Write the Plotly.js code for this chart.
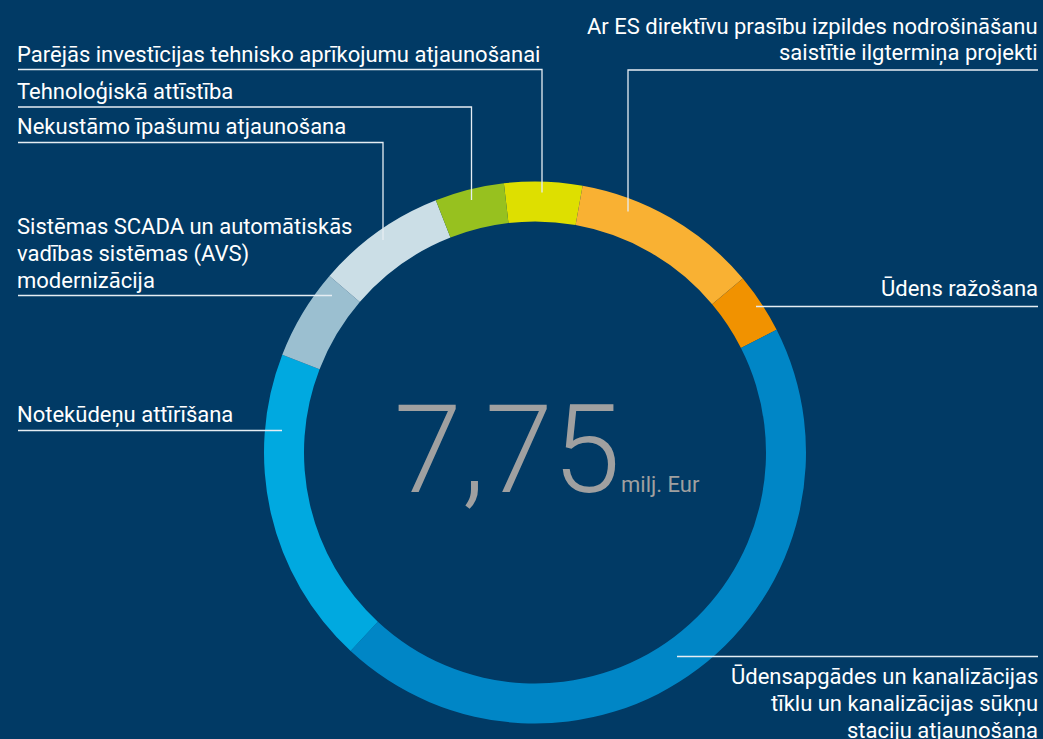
<!DOCTYPE html>
<html>
<head>
<meta charset="utf-8">
<script src="https://cdn.plot.ly/plotly-3.0.1.min.js"></script>
<style>html,body{margin:0;padding:0;background:#013a65;}#chart{width:1043px;height:739px;}</style>
</head>
<body>
<div id="chart"></div>
<script>
// Data (milj. Eur), clockwise from the top
const categories = [
  "Parējās investīcijas tehnisko aprīkojumu atjaunošanai",
  "Ar ES direktīvu prasību izpildes nodrošināšanu saistītie ilgtermiņa projekti",
  "Ūdens ražošana",
  "Ūdensapgādes un kanalizācijas tīklu un kanalizācijas sūkņu staciju atjaunošana",
  "Notekūdeņu attīrīšana",
  "Sistēmas SCADA un automātiskās vadības sistēmas (AVS) modernizācija",
  "Nekustāmo īpašumu atjaunošana",
  "Tehnoloģiskā attīstība"
];
const values = [0.36, 0.86, 0.28, 3.44, 1.47, 0.42, 0.60, 0.32];
const colors = ["#dedf00", "#f9b133", "#f19200", "#0086c6", "#00a9e0", "#9bbfd0", "#cbdee6", "#97c11f"];
const labelLines = [
  ["Parējās investīcijas tehnisko aprīkojumu atjaunošanai"],
  ["Ar ES direktīvu prasību izpildes nodrošināšanu", "saistītie ilgtermiņa projekti"],
  ["Ūdens ražošana"],
  ["Ūdensapgādes un kanalizācijas", "tīklu un kanalizācijas sūkņu", "staciju atjaunošana"],
  ["Notekūdeņu attīrīšana"],
  ["Sistēmas SCADA un automātiskās", "vadības sistēmas (AVS)", "modernizācija"],
  ["Nekustāmo īpašumu atjaunošana"],
  ["Tehnoloģiskā attīstība"]
];
const totalText = "7,75";
const unitText = "milj. Eur";

// Layout geometry (pixels)
const W = 1043, H = 739;
const CX = 535, CY = 452.5, R = 271, RIN = 231;
const px = x => x / W;
const py = y => 1 - y / H;
const FS = 22;
const LH = 27;
// leader layout per category: side, first baseline, leader polyline
const leaders = [
  {side: "left",  base: 62,    pts: [[18, 69.5], [542, 69.5], [542, 192.5]]},
  {side: "right", base: 33.5,  pts: [[1038, 70], [628, 70], [628, 211.5]]},
  {side: "right", base: 296,   pts: [[1038, 306.5], [756, 306.5]]},
  {side: "right", base: 684,   pts: [[1038, 656.5], [677, 656.5]]},
  {side: "left",  base: 422.5, pts: [[18, 430.5], [282, 430.5]]},
  {side: "left",  base: 234,   pts: [[18, 295.5], [332, 295.5]]},
  {side: "left",  base: 133.5, pts: [[18, 142.5], [383, 142.5], [383, 240]]},
  {side: "left",  base: 98.5,  pts: [[18, 107], [471.5, 107], [471.5, 200]]}
];

const annotations = [];
const shapes = [];
leaders.forEach((L, i) => {
  labelLines[i].forEach((line, k) => {
    const base = L.base + k * LH;
    annotations.push({
      xref: "paper", yref: "paper",
      x: px(L.side === "left" ? 15 : 1040), y: py(base - 0.34 * FS),
      xanchor: L.side, yanchor: "middle", align: L.side,
      text: line, showarrow: false,
      font: {family: "Roboto, sans-serif", size: FS, color: "#ffffff"}
    });
  });
  const path = L.pts.map((p, k) => (k === 0 ? "M" : "L") + px(p[0]) + "," + py(p[1])).join(" ");
  shapes.push({type: "path", xref: "paper", yref: "paper", path: path,
    line: {color: "#e6edf3", width: 1.3}});
});

annotations.push({
  xref: "paper", yref: "paper", x: px(506.5), y: py(491.7 - 0.34 * 122),
  xanchor: "center", yanchor: "middle", showarrow: false, text: totalText,
  font: {family: "Roboto, sans-serif", size: 122, color: "#a0a0a0", weight: 300}
});
annotations.push({
  xref: "paper", yref: "paper", x: px(619), y: py(491.7 - 0.34 * 22),
  xanchor: "left", yanchor: "middle", showarrow: false, text: unitText,
  font: {family: "Roboto, sans-serif", size: 22, color: "#a0a0a0"}
});

const trace = {
  type: "pie",
  labels: categories,
  values: values,
  sort: false,
  direction: "clockwise",
  rotation: -6.6,
  hole: RIN / R,
  textinfo: "none",
  hoverinfo: "label+value",
  marker: {colors: colors, line: {width: 0}},
  domain: {x: [px(CX - R), px(CX + R)], y: [py(CY + R), py(CY - R)]},
  showlegend: false
};

const layout = {
  width: W, height: H,
  margin: {l: 0, r: 0, t: 0, b: 0},
  paper_bgcolor: "#013a65",
  plot_bgcolor: "#013a65",
  showlegend: false,
  annotations: annotations,
  shapes: shapes
};

Plotly.newPlot("chart", [trace], layout, {displayModeBar: false, staticPlot: true});
</script>
</body>
</html>
